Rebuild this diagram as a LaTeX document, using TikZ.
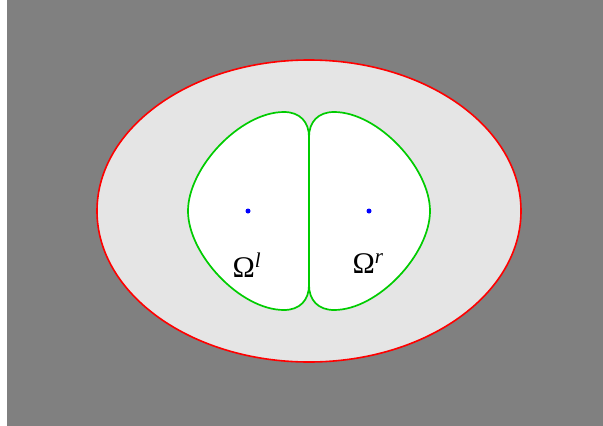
\documentclass[tikz,border=0pt]{standalone}
\usepackage{fontspec}
\setmainfont{Liberation Serif}
\usetikzlibrary{shapes.geometric}
\definecolor{bggray}{RGB}{128,128,128}
\definecolor{ellfill}{RGB}{229,229,229}
\definecolor{grn}{RGB}{0,204,0}
\begin{document}
\begin{tikzpicture}[x=1pt,y=-1pt,
  region/.style={draw=grn,line width=1.7pt,fill=white},
  centre/.style={circle,fill=blue,inner sep=0pt,minimum size=5pt},
  lab/.style={font=\fontsize{30}{35}\selectfont,inner sep=0pt,anchor=base}]
\useasboundingbox (0,0) rectangle (603,426);
\fill[bggray] (7,0) rectangle (603,426);
\node[draw=red,line width=1.6pt,fill=ellfill,ellipse,minimum width=424pt,minimum height=302pt,inner sep=0pt] (outer) at (309,211) {};
\draw[region] (309,211) -- (309,137) .. controls (309,122) and (300,112) .. (284,112)
  .. controls (240,112) and (188,168) .. (188,211)
  .. controls (188,254) and (240,310) .. (284,310)
  .. controls (300,310) and (309,300) .. (309,285) -- cycle;
\draw[region] (309,211) -- (309,137) .. controls (309,122) and (318,112) .. (334,112)
  .. controls (378,112) and (430,168) .. (430,211)
  .. controls (430,254) and (378,310) .. (334,310)
  .. controls (318,310) and (309,300) .. (309,285) -- cycle;
\node[centre] (cl) at (248,211) {};
\node[centre] (cr) at (369,211) {};
\node[lab] (ol) at (247,277) {Ω\textsuperscript{\itshape l}};
\node[lab] (or) at (368,273) {Ω\textsuperscript{\itshape r}};
\end{tikzpicture}
\end{document}
